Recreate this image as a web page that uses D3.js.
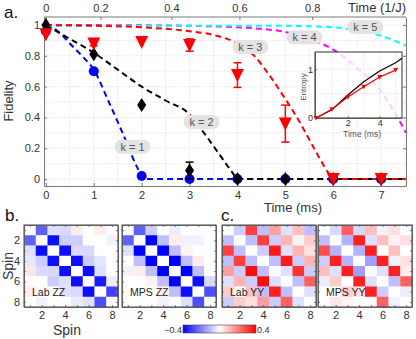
<!DOCTYPE html>
<html lang="en">
<head>
<meta charset="UTF-8">
<title>Fidelity and spin correlations</title>
<script src="https://d3js.org/d3.v7.min.js"></script>
<style>
  body { margin: 0; background: #fff; }
  svg { display: block; font-family: "Liberation Sans", Arial, sans-serif; }
  .grid line { stroke: #d4d4d4; stroke-width: 0.8; stroke-dasharray: 1,1.5; }
  .axis path, .axis line { stroke: #7a7a7a; }
  .axis text { fill: #333; }
</style>
</head>
<body>
<svg id="chart" width="416" height="339"></svg>
<script>
// measured fidelity, one point per ms
const times = [0, 1, 2, 3, 4, 5, 6, 7];
const fidK1 = [0.96, 0.70, 0.02, 0, 0, 0, 0, 0];
const fidK2 = [1.0, 0.81, 0.48, 0.055, 0, 0, 0, 0];
const errK2 = [0, 0, 0, 0.055, 0, 0, 0, 0];
const fidK3 = [0.94, 0.88, 0.89, 0.87, 0.675, 0.36, 0, 0];
const errK3 = [0, 0.015, 0, 0.04, 0.08, 0.12, 0, 0];

// theory curves, [time (ms), fidelity]
const theoryK1 = [[0,1],[0.25,0.96],[0.5,0.88],[0.75,0.80],[1,0.71],[1.3,0.51],[1.6,0.30],[1.9,0.08],[2.05,0],[7.52,0]];
const theoryK2 = [[0,1],[0.5,0.91],[1,0.82],[1.5,0.71],[2,0.60],[2.5,0.51],[3,0.42],[3.3,0.30],[3.6,0.17],[3.9,0.04],[4.0,0],[7.52,0]];
const theoryK3 = [[0,1],[1,0.995],[2,0.985],[3,0.96],[3.5,0.935],[4,0.88],[4.35,0.80],[4.7,0.66],[5.0,0.52],[5.3,0.37],[5.6,0.2],[5.9,0.04],[6.0,0],[7.52,0]];
const theoryK4 = [[0,1],[2,0.998],[3,0.995],[4,0.985],[4.5,0.975],[5,0.955],[5.5,0.91],[6,0.84],[6.5,0.72],[7,0.57],[7.25,0.45],[7.52,0.3]];
const theoryK5 = [[0,0.995],[5,0.995],[5.5,0.992],[6,0.985],[6.5,0.965],[7,0.93],[7.52,0.865]];

const kNames = ["k = 1", "k = 2", "k = 3", "k = 4", "k = 5"];
const kLabelAt = [[1.81, 0.21], [3.25, 0.37], [4.27, 0.857], [5.4, 0.92], [6.67, 0.987]];

const xTicks = [0, 1, 2, 3, 4, 5, 6, 7];
const yTicks = [0, 0.2, 0.4, 0.6, 0.8, 1];
const topTicks = [0, 0.2, 0.4, 0.6, 0.8];
const topTickMs = [0, 1.14, 2.62, 4.04, 5.56];

// inset: entanglement entropy
const entTimes = [0, 1, 2, 3, 4, 5];
const entData = [0, 0.18, 0.43, 0.64, 0.84, 0.98];
const entTheoryT = [0, 1, 2, 3, 4, 5, 5.4];
const entTheory = [0, 0.17, 0.47, 0.74, 0.96, 1.13, 1.22];

// 8x8 correlation maps
const labZZ = [
  [0, -0.25, -0.05, -0.06, 0.03, 0, 0.03, 0],
  [-0.25, 0, -0.38, -0.08, -0.08, 0, 0, -0.02],
  [-0.05, -0.38, 0, -0.38, -0.06, -0.06, 0, 0],
  [-0.04, -0.08, -0.38, 0, -0.38, -0.08, -0.04, 0],
  [0.04, -0.06, -0.06, -0.38, 0, -0.38, -0.05, 0],
  [0, 0, -0.08, -0.05, -0.38, 0, -0.36, -0.03],
  [0.03, 0, 0, -0.05, -0.06, -0.38, 0, -0.3],
  [0, -0.02, 0, 0, -0.03, -0.05, -0.28, 0]
];
const mpsZZ = [
  [0, -0.25, -0.08, 0, -0.03, 0, 0, 0],
  [-0.25, 0, -0.4, -0.1, 0.03, -0.02, -0.02, 0],
  [-0.05, -0.4, 0, -0.4, -0.1, 0.02, 0, 0],
  [0, -0.1, -0.4, 0, -0.4, -0.1, 0.03, 0],
  [-0.02, 0.03, -0.1, -0.4, 0, -0.4, -0.1, 0],
  [0, 0, 0.02, -0.1, -0.4, 0, -0.38, -0.06],
  [0, 0, 0, 0.02, -0.1, -0.38, 0, -0.28],
  [0, 0, 0, -0.02, 0, -0.05, -0.28, 0]
];
const labYY = [
  [0, -0.08, 0.3, -0.1, 0.15, -0.05, 0.1, -0.1],
  [-0.1, 0, -0.1, 0.3, -0.08, 0.12, 0.02, 0.08],
  [0.3, -0.1, 0, -0.08, 0.36, -0.05, 0.12, 0.05],
  [-0.1, 0.3, -0.1, 0, -0.1, 0.36, -0.08, 0.12],
  [0.15, -0.08, 0.38, -0.1, 0, -0.05, 0.32, -0.08],
  [-0.05, 0.12, -0.08, 0.38, -0.05, 0, -0.1, 0.25],
  [0.08, 0, 0.1, -0.1, 0.35, -0.1, 0, -0.05],
  [-0.08, 0.08, 0.05, 0.15, -0.08, 0.25, -0.05, 0]
];
const mpsYY = [
  [0, -0.06, 0.25, -0.06, 0.1, -0.02, 0.05, 0],
  [-0.1, 0, -0.12, 0.35, -0.05, 0.1, 0.02, 0.05],
  [0.28, -0.12, 0, -0.12, 0.35, 0, 0.1, 0],
  [-0.08, 0.35, -0.12, 0, -0.15, 0.35, -0.02, 0.05],
  [0.1, -0.05, 0.35, -0.15, 0, -0.05, 0.35, 0.03],
  [-0.03, 0.08, 0, 0.35, -0.05, 0, -0.1, 0.25],
  [0, 0, 0.08, 0.05, 0.35, -0.08, 0, -0.03],
  [0, 0.04, 0.02, 0, 0, 0.25, -0.02, 0]
];
const mapNames = ["Lab ZZ", "MPS ZZ", "Lab YY", "MPS YY"];
const spins = [1, 2, 3, 4, 5, 6, 7, 8];
const spinTicks = [2, 4, 6, 8];
const colorTicks = [-0.4, 0.4];

const svg = d3.select("#chart");
const fmt = d3.format("~g");

// ---------- panel a ----------
const x = d3.scaleLinear().domain([-0.04, 7.52]).range([44, 406]);
const y = d3.scaleLinear().domain([-0.045, 1.052]).range([186, 17]);
const xTop = d3.scaleLinear().domain(topTicks).range(topTickMs.map(x));

const grid = svg.append("g").attr("class", "grid");
grid.selectAll(".gv").data(d3.range(0, 7.6, 0.5)).join("line")
  .attr("x1", d => x(d)).attr("x2", d => x(d))
  .attr("y1", y.range()[0]).attr("y2", y.range()[1]);
grid.selectAll(".gh").data(d3.range(0, 1.05, 0.1)).join("line")
  .attr("y1", d => y(d)).attr("y2", d => y(d))
  .attr("x1", x.range()[0]).attr("x2", x.range()[1]);

svg.append("g").attr("class", "axis")
  .attr("transform", `translate(0,${y.range()[0]})`)
  .call(d3.axisBottom(x).tickValues(xTicks).tickSize(-3).tickSizeOuter(0).tickPadding(5))
  .call(g => g.selectAll("text").attr("font-size", 11));
svg.append("g").attr("class", "axis")
  .attr("transform", `translate(${x.range()[0]},0)`)
  .call(d3.axisLeft(y).tickValues(yTicks).tickFormat(fmt).tickSize(-3).tickSizeOuter(0).tickPadding(4))
  .call(g => g.selectAll("text").attr("font-size", 11));
svg.append("g").attr("class", "axis")
  .attr("transform", `translate(0,${y.range()[1]})`)
  .call(d3.axisTop(xTop).tickValues(topTicks).tickFormat(fmt).tickSize(-3).tickSizeOuter(0).tickPadding(5))
  .call(g => g.select(".domain").attr("d", `M${x.range()[0]},0H${x.range()[1]}`))
  .call(g => g.selectAll("text").attr("font-size", 11));
svg.append("g").attr("class", "axis")
  .attr("transform", `translate(${x.range()[1]},0)`)
  .call(d3.axisRight(y).tickValues(yTicks).tickFormat("").tickSize(-3).tickSizeOuter(0));

svg.append("text").attr("x", 406).attr("y", 12).attr("text-anchor", "end")
  .attr("font-size", 13).attr("fill", "#333").text("Time (1/J)");
svg.append("text").attr("x", 293).attr("y", 212).attr("text-anchor", "middle")
  .attr("font-size", 13).attr("fill", "#333").text("Time (ms)");
svg.append("text").attr("transform", "translate(13,101) rotate(-90)").attr("text-anchor", "middle")
  .attr("font-size", 13).attr("fill", "#333").text("Fidelity");
svg.append("text").attr("x", 4).attr("y", 18).attr("font-size", 17).attr("fill", "#111").text("a.");

const line = d3.line().x(d => x(d[0])).y(d => y(d[1])).curve(d3.curveMonotoneX);
const curves = [
  { pts: theoryK1, color: "#0000ff" },
  { pts: theoryK2, color: "#000000" },
  { pts: theoryK4, color: "#ff00ff" },
  { pts: theoryK5, color: "#00ffff" },
  { pts: theoryK3, color: "#ff0000" }
];
svg.append("g").selectAll("path").data(curves).join("path")
  .attr("d", d => line(d.pts)).attr("fill", "none")
  .attr("stroke", d => d.color).attr("stroke-width", 2).attr("stroke-dasharray", "6,4");

// k labels
const lab = svg.append("g").selectAll("g").data(kNames).join("g")
  .attr("transform", (d, i) => `translate(${x(kLabelAt[i][0])},${y(kLabelAt[i][1])})`);
lab.append("rect").attr("x", -18).attr("y", -7).attr("width", 36).attr("height", 14)
  .attr("rx", 7).attr("fill", "#e3e3e3");
lab.append("text").attr("text-anchor", "middle").attr("dy", "0.35em")
  .attr("font-size", 11).attr("fill", "#555").text(d => d);

// error bars
function errorBars(vals, errs, color) {
  const g = svg.append("g").attr("stroke", color).attr("stroke-width", 1.5);
  times.forEach((t, i) => {
    if (!errs[i]) return;
    g.append("line").attr("x1", x(t)).attr("x2", x(t))
      .attr("y1", y(vals[i] - errs[i])).attr("y2", y(vals[i] + errs[i]));
    [vals[i] - errs[i], vals[i] + errs[i]].forEach(v => {
      g.append("line").attr("x1", x(t) - 4).attr("x2", x(t) + 4).attr("y1", y(v)).attr("y2", y(v));
    });
  });
}

// markers
svg.append("g").selectAll("circle").data(times).join("circle")
  .attr("cx", d => x(d)).attr("cy", (d, i) => y(fidK1[i])).attr("r", 5)
  .attr("fill", "#0000ff");
errorBars(fidK2, errK2, "#000");
const diamond = "M0,-7L4.5,0L0,7L-4.5,0Z";
svg.append("g").selectAll("path").data(times).join("path")
  .attr("transform", (d, i) => `translate(${x(d)},${y(fidK2[i])})`)
  .attr("d", diamond).attr("fill", "#000");
errorBars(fidK3, errK3, "#ff0000");
const tri = "M-6.5,-6L6.5,-6L0,7Z";
svg.append("g").selectAll("path").data(times).join("path")
  .attr("transform", (d, i) => `translate(${x(d)},${y(fidK3[i])})`)
  .attr("d", tri).attr("fill", "#ff0000");

// inset
const xi = d3.scaleLinear().domain([0, 5.4]).range([316, 402]);
const yi = d3.scaleLinear().domain([0, 1.35]).range([118, 52]);
svg.append("rect").attr("x", 315).attr("y", 52).attr("width", 87).attr("height", 66)
  .attr("fill", "#fff").attr("fill-opacity", 0.82);
const gi = svg.append("g").attr("class", "grid");
gi.selectAll(".v").data([1, 2, 3, 4, 5]).join("line")
  .attr("x1", d => xi(d)).attr("x2", d => xi(d)).attr("y1", yi.range()[0]).attr("y2", yi.range()[1]);
gi.selectAll(".h").data([0.5, 1]).join("line")
  .attr("y1", d => yi(d)).attr("y2", d => yi(d)).attr("x1", 315).attr("x2", 402);
svg.append("g").attr("class", "axis").attr("transform", `translate(0,118)`)
  .call(d3.axisBottom(xi).tickValues([2, 4]).tickFormat(fmt).tickSize(-2).tickSizeOuter(0).tickPadding(2))
  .call(g => g.selectAll("text").attr("font-size", 9));
svg.append("g").attr("class", "axis").attr("transform", `translate(315,0)`)
  .call(d3.axisLeft(yi).tickValues([0, 1]).tickFormat(fmt).tickSize(-2).tickSizeOuter(0).tickPadding(2))
  .call(g => g.selectAll("text").attr("font-size", 9));
svg.append("rect").attr("x", 315).attr("y", 52).attr("width", 87).attr("height", 66)
  .attr("fill", "none").attr("stroke", "#333");
svg.append("text").attr("x", 362).attr("y", 137).attr("text-anchor", "middle")
  .attr("font-size", 8.5).attr("fill", "#555").text("Time (ms)");
svg.append("text").attr("transform", "translate(306,87) rotate(-90)").attr("text-anchor", "middle")
  .attr("font-size", 8).attr("fill", "#555").text("Entropy");
const li = d3.line().x(d => xi(d[0])).y(d => yi(d[1]));
svg.append("path").attr("d", li(entTheoryT.map((t, i) => [t, entTheory[i]])))
  .attr("fill", "none").attr("stroke", "#000").attr("stroke-width", 1.2);
svg.append("path").attr("d", li(entTimes.map((t, i) => [t, entData[i]])))
  .attr("fill", "none").attr("stroke", "#ff0000").attr("stroke-width", 1.2);
svg.append("g").selectAll("path").data(entTimes).join("path")
  .attr("transform", (d, i) => `translate(${xi(d)},${yi(entData[i])})`)
  .attr("d", "M-2.5,-2L2.5,-2L0,2.5Z").attr("fill", "#ff0000");

// ---------- panels b, c ----------
const color = d3.scaleLinear().domain([-0.4, 0, 0.4]).range(["#0000ff", "#ffffff", "#ff0000"]).clamp(true);
const maps = [labZZ, mpsZZ, labYY, mpsYY];
const mapLeft = [24, 122, 222, 318];
maps.forEach((m, k) => {
  const cx = d3.scaleBand().domain(spins).range([mapLeft[k], mapLeft[k] + 94]);
  const cy = d3.scaleBand().domain(spins).range([225, 307]);
  const g = svg.append("g");
  m.forEach((row, r) => {
    g.selectAll(null).data(row).join("rect")
      .attr("x", (d, c) => cx(spins[c])).attr("y", cy(spins[r]))
      .attr("width", cx.bandwidth() + 0.3).attr("height", cy.bandwidth() + 0.3)
      .attr("fill", d => color(d));
  });
  const lx = d3.scaleLinear().domain([0.5, 8.5]).range(cx.range());
  const ly = d3.scaleLinear().domain([0.5, 8.5]).range(cy.range());
  svg.append("g").attr("class", "axis").attr("transform", "translate(0,307)")
    .call(d3.axisBottom(lx).tickValues(spins).tickFormat(d => spinTicks.includes(d) ? d : "")
      .tickSize(-2).tickSizeOuter(0).tickPadding(4))
    .call(g => g.selectAll("text").attr("font-size", 11));
  svg.append("g").attr("class", "axis").attr("transform", "translate(0,225)")
    .call(d3.axisTop(lx).tickValues(spins).tickFormat("").tickSize(-2).tickSizeOuter(0));
  svg.append("g").attr("class", "axis").attr("transform", `translate(${cx.range()[0]},0)`)
    .call(d3.axisLeft(ly).tickValues(spins).tickFormat(d => (k === 0 && spinTicks.includes(d)) ? d : "")
      .tickSize(-2).tickSizeOuter(0).tickPadding(4))
    .call(g => g.selectAll("text").attr("font-size", 11));
  svg.append("g").attr("class", "axis").attr("transform", `translate(${cx.range()[1]},0)`)
    .call(d3.axisRight(ly).tickValues(spins).tickFormat("").tickSize(-2).tickSizeOuter(0));
  svg.append("rect").attr("x", cx.range()[0]).attr("y", 225).attr("width", 94).attr("height", 82)
    .attr("fill", "none").attr("stroke", "#444");
  svg.append("text").attr("x", cx.range()[0] + 8).attr("y", 296)
    .attr("font-size", 10.5).attr("fill", "#222").text(mapNames[k]);
});

svg.append("text").attr("x", 5).attr("y", 221).attr("font-size", 17).attr("fill", "#111").text("b.");
svg.append("text").attr("x", 221).attr("y", 221).attr("font-size", 17).attr("fill", "#111").text("c.");
svg.append("text").attr("x", 67).attr("y", 335).attr("text-anchor", "middle")
  .attr("font-size", 14).attr("fill", "#333").text("Spin");
svg.append("text").attr("transform", "translate(13,266) rotate(-90)").attr("text-anchor", "middle")
  .attr("font-size", 14).attr("fill", "#333").text("Spin");

// colorbar
const cb = d3.scaleLinear().domain([-0.4, 0.4]).range([183, 256]);
const grad = svg.append("defs").append("linearGradient").attr("id", "cbar");
grad.selectAll("stop").data([-0.4, 0, 0.4]).join("stop")
  .attr("offset", d => (cb(d) - 183) / 73).attr("stop-color", d => color(d));
svg.append("rect").attr("x", 183).attr("y", 325).attr("width", 73).attr("height", 8)
  .attr("fill", "url(#cbar)").attr("stroke", "#444").attr("stroke-width", 0.6);
svg.append("g").selectAll("text").data(colorTicks).join("text")
  .attr("x", d => cb(d) + (d < 0 ? -1 : 1)).attr("y", 333)
  .attr("text-anchor", d => d < 0 ? "end" : "start")
  .attr("font-size", 9).attr("fill", "#333").text(d => fmt(d));
</script>
</body>
</html>
